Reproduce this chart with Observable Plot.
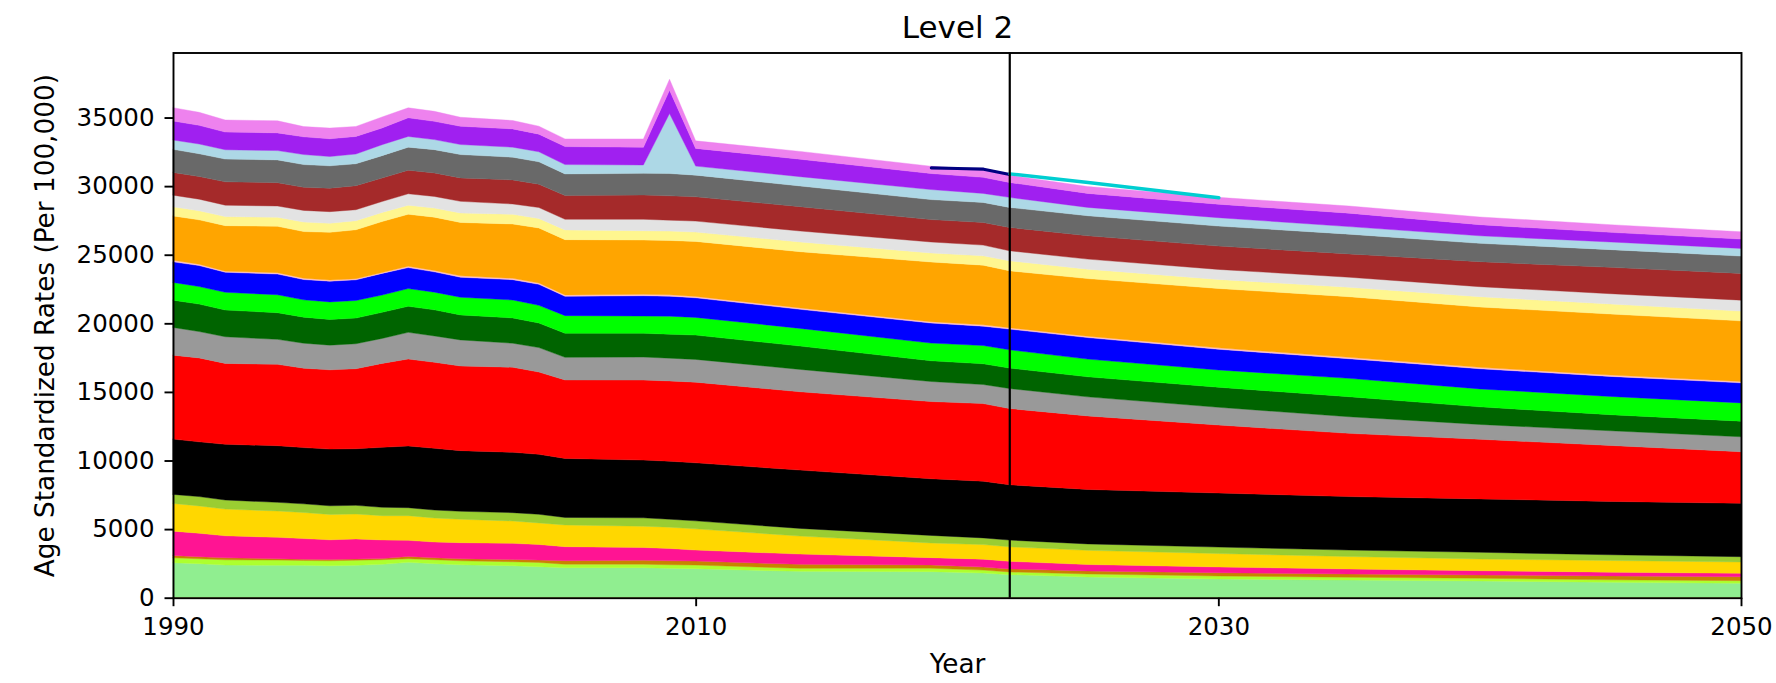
<!DOCTYPE html>
<html>
<head>
<meta charset="utf-8">
<script src="https://cdn.jsdelivr.net/npm/d3@7"></script>
<script src="https://cdn.jsdelivr.net/npm/@observablehq/plot@0.6"></script>
<style>
  html, body { margin: 0; padding: 0; background: #fff; }
  #chart svg { display: block; }
</style>
</head>
<body>
<div id="chart"></div>
<script>
// ---- data ----
const years = [1990,1991,1992,1994,1995,1996,1997,1998,1999,2000,2001,2003,2004,2005,2008,2009,2010,2014,2019,2021,2022,2025,2030,2035,2040,2045,2050];

const layerNames  = ["yellowBase","lightgreen","greenyellow","ochre","deeppink","gold","yellowgreen","black","red","gray","darkgreen","lime","blue","pink","orange","khaki","lightgray","brown","dimgray","lightblue","purple","violet"];
const layerColors = ["#e6e62e","#90ee90","#adff2f","#c98300","#ff1493","#ffd700","#9acd32","#000000","#ff0000","#999999","#006400","#00ff00","#0000ff","#ffc0cb","#ffa500","#fff68f","#e3e3e3","#a52a2a","#696969","#add8e6","#a020f0","#ee82ee"];

const yellowBase  = [30,30,30,30,30,30,40,50,50,50,50,50,40,40,40,40,30,30,30,30,30,30,30,30,40,40,40];
const lightgreen  = [2520,2450,2350,2330,2330,2300,2320,2380,2530,2430,2350,2280,2220,2150,2150,2100,2080,1890,1870,1770,1650,1480,1330,1260,1180,1080,1010];
const greenyellow = [360,360,380,380,350,360,370,340,260,290,290,290,310,250,250,260,270,220,250,210,200,220,220,200,200,180,190];
const ochre       = [170,150,150,100,100,100,90,80,170,150,150,170,170,260,290,290,290,290,240,220,220,220,240,240,240,290,290];
const deeppink    = [1770,1710,1600,1560,1500,1430,1460,1360,1170,1140,1170,1170,1140,1020,930,900,800,750,530,580,550,470,420,360,310,270,250];
const gold        = [2020,1990,1950,1920,1900,1850,1820,1770,1800,1750,1710,1630,1570,1580,1550,1550,1550,1310,1070,1060,1060,1030,980,910,850,850,820];
const yellowgreen = [660,680,660,630,630,630,630,610,580,580,580,610,630,550,610,580,580,560,550,490,490,470,470,470,490,420,390];
const black       = [4030,3990,4060,4130,4100,4130,4130,4370,4500,4500,4420,4400,4370,4300,4210,4230,4230,4250,4130,4130,4030,3970,3940,3900,3890,3890,3890];
const red         = [6120,6120,5900,5930,5790,5780,5830,6120,6340,6270,6170,6200,6000,5720,5830,5850,5880,5710,5630,5660,5560,5360,4960,4610,4350,4080,3760];
const gray        = [2020,1920,1940,1820,1820,1800,1820,1820,1940,1920,1900,1750,1780,1650,1680,1660,1660,1630,1460,1390,1460,1390,1290,1210,1080,1070,1090];
const darkgreen   = [1990,2000,1950,1940,1900,1870,1870,1900,1900,1900,1820,1840,1790,1750,1730,1750,1770,1700,1510,1510,1490,1460,1460,1460,1280,1170,1140];
const lime        = [1290,1280,1290,1310,1260,1280,1280,1260,1290,1290,1290,1310,1290,1290,1260,1310,1290,1290,1290,1330,1330,1290,1260,1340,1310,1330,1330];
const blue        = [1500,1530,1460,1510,1480,1510,1510,1580,1530,1480,1460,1480,1530,1410,1480,1460,1430,1390,1460,1410,1510,1570,1510,1430,1470,1460,1460];
const pink        = [120,100,80,100,100,80,80,60,100,100,100,100,100,100,100,100,100,100,100,100,100,100,100,100,100,100,100];
const orange      = [3230,3230,3320,3380,3400,3480,3570,3720,3790,3890,3890,3960,4010,4030,3960,3960,4010,4100,4350,4350,4150,4200,4330,4420,4400,4450,4420];
const khaki       = [660,660,660,660,690,660,660,660,660,660,690,710,690,710,680,680,680,710,660,680,730,690,660,690,750,730,710];
const lightgray   = [850,850,830,820,850,850,800,800,830,850,850,750,800,770,830,800,800,800,800,780,730,730,730,730,730,750,800];
const brown       = [1660,1650,1700,1700,1680,1710,1750,1710,1720,1710,1710,1750,1700,1730,1770,1770,1770,1770,1630,1650,1700,1700,1700,1700,1820,1920,1950];
const dimgray     = [1680,1660,1660,1660,1660,1630,1600,1630,1680,1700,1700,1660,1630,1580,1580,1630,1580,1510,1460,1460,1460,1460,1460,1440,1340,1290,1260];
const lightblue   = [680,710,680,680,730,680,710,800,780,730,730,730,730,680,610,4370,660,680,730,660,730,610,610,550,550,560,560];
const purple      = [1390,1360,1290,1290,1290,1290,1280,1220,1360,1330,1330,1330,1290,1310,1290,1700,1290,1270,1170,1170,1090,1020,980,980,810,700,680];
const violet      = [970,950,880,880,750,780,730,800,730,730,660,610,580,560,610,800,550,570,530,540,520,500,500,520,560,560,530];

const navyYears  = [2019, 2020, 2021, 2022];
const navyValues = [31370, 31320, 31270, 30880];
const cyanYears  = [2022, 2025, 2030];
const cyanValues = [30930, 30300, 29190];

const forecastStart = 2022;
const xTicks = [1990, 2010, 2030, 2050];
const yTicks = [0, 5000, 10000, 15000, 20000, 25000, 30000, 35000];

const titleText = "Level 2";
const xLabel = "Year";
const yLabel = "Age Standardized Rates (Per 100,000)";

// ---- build table ----
const seriesValues = [yellowBase, lightgreen, greenyellow, ochre, deeppink, gold, yellowgreen, black, red, gray, darkgreen, lime, blue, pink, orange, khaki, lightgray, brown, dimgray, lightblue, purple, violet];
const table = [];
layerNames.forEach((name, i) => {
  years.forEach((yr, j) => {
    table.push({year: yr, layer: name, color: layerColors[i], value: seriesValues[i][j]});
  });
});
const navy = navyYears.map((y, i) => ({year: y, value: navyValues[i]}));
const cyan = cyanYears.map((y, i) => ({year: y, value: cyanValues[i]}));

const FONT = 24.5;
const LABEL_FONT = 26.3;
const TITLE_FONT = 31;

const chart = Plot.plot({
  width: 1776,
  height: 683,
  marginLeft: 173,
  marginRight: 35,
  marginTop: 52.5,
  marginBottom: 85.3,
  style: {fontFamily: "'DejaVu Sans', sans-serif", fontSize: FONT + "px", color: "#000", background: "#fff", overflow: "visible"},
  x: {domain: [1990, 2050]},
  y: {domain: [0, 39740]},
  color: {type: "identity"},
  marks: [
    Plot.areaY(table, Plot.stackY({order: layerNames}, {
      x: "year", y: "value", z: "layer", fill: "color", stroke: "color", strokeWidth: 0.4
    })),
    Plot.line(navy, {x: "year", y: "value", stroke: "#000080", strokeWidth: 3.2}),
    Plot.line(cyan, {x: "year", y: "value", stroke: "#00ced1", strokeWidth: 3.4}),
    Plot.ruleX([forecastStart], {stroke: "#000", strokeWidth: 2.2}),
    Plot.frame({stroke: "#000", strokeWidth: 1.9}),
    Plot.axisX({ticks: xTicks, tickFormat: d => String(d), tickSize: 8.5, tickPadding: 11, strokeWidth: 1.9, fontSize: FONT, label: null}),
    Plot.axisY({ticks: yTicks, tickFormat: d => String(d), tickSize: 8.5, tickPadding: 10.5, strokeWidth: 1.9, fontSize: FONT, label: null}),
    Plot.text([titleText], {frameAnchor: "top", dy: -25, fontSize: TITLE_FONT, lineAnchor: "middle", textAnchor: "middle"}),
    Plot.text([xLabel], {frameAnchor: "bottom", dy: 66, fontSize: LABEL_FONT, lineAnchor: "middle", textAnchor: "middle"}),
    Plot.text([yLabel], {frameAnchor: "left", dx: -128, rotate: -90, fontSize: LABEL_FONT, lineAnchor: "middle", textAnchor: "middle"})
  ]
});
document.getElementById("chart").appendChild(chart);
</script>
</body>
</html>
